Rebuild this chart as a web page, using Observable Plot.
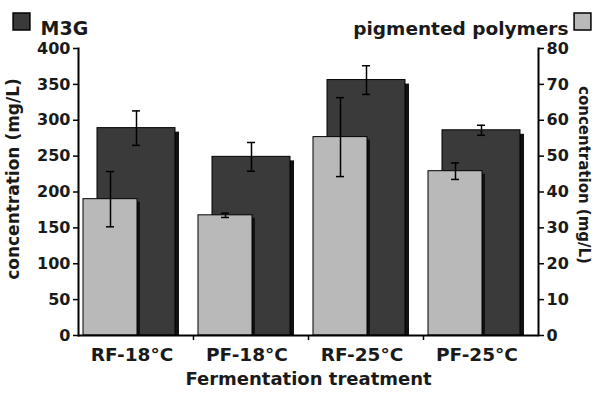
<!DOCTYPE html>
<html>
<head>
<meta charset="utf-8">
<script src="https://cdn.jsdelivr.net/npm/d3@7"></script>
<script src="https://cdn.jsdelivr.net/npm/@observablehq/plot@0.6"></script>
<style>
  html, body { margin: 0; padding: 0; background: #fff; }
  #chart svg { display: block; }
</style>
</head>
<body>
<div id="chart"></div>
<script>
// Fermentation treatments on the x axis
const treatments = ["RF-18°C", "PF-18°C", "RF-25°C", "PF-25°C"];

// Malvidin-3-glucoside (left axis, mg/L)
const m3gMean = [289, 249, 356, 286];
const m3gErr  = [24, 20, 20, 7];

// Pigmented polymers (right axis, mg/L)
const ppMean = [38, 33.5, 55.3, 45.8];
const ppErr  = [7.7, 0.6, 11, 2.3];

// Tick values
const leftTicks  = [0, 50, 100, 150, 200, 250, 300, 350, 400];
const rightTicks = [0, 10, 20, 30, 40, 50, 60, 70, 80];

// The right axis shares the left y scale: 80 mg/L on the right lines up with 400 on the left
const ratio = 400 / 80;

const rows = treatments.map((t, i) => ({
  t,
  m3g: m3gMean[i], m3gLo: m3gMean[i] - m3gErr[i], m3gHi: m3gMean[i] + m3gErr[i],
  pp: ppMean[i] * ratio, ppLo: (ppMean[i] - ppErr[i]) * ratio, ppHi: (ppMean[i] + ppErr[i]) * ratio
}));

const dark = "#3a3a3a";
const light = "#b9b9b9";
const ink = "#1a1a1a";

const chart = Plot.plot({
  width: 595,
  height: 397,
  marginTop: 48,
  marginBottom: 62,
  marginLeft: 78,
  marginRight: 57,
  style: { fontFamily: "DejaVu Sans", fontWeight: "bold", color: ink, background: "#fff" },
  x: { domain: treatments, padding: 0, axis: null },
  y: { domain: [0, 400], axis: null },
  marks: [
    // M3G bars (back) with drop shadow
    Plot.barY(rows, { x: "t", y: "m3g", insetLeft: 19, insetRight: 18, dx: 4, dy: 4, fill: "#111", clip: true }),
    Plot.barY(rows, { x: "t", y: "m3g", insetLeft: 19, insetRight: 18, fill: dark, stroke: "#000", strokeWidth: 1 }),
    Plot.ruleX(rows, { x: "t", y1: "m3gLo", y2: "m3gHi", dx: 0.5, stroke: "#000", strokeWidth: 1.5 }),
    Plot.tickY(rows, { x: "t", y: "m3gHi", insetLeft: 54, insetRight: 53, stroke: "#000", strokeWidth: 1.5 }),
    Plot.tickY(rows, { x: "t", y: "m3gLo", insetLeft: 54, insetRight: 53, stroke: "#000", strokeWidth: 1.5 }),

    // Pigmented polymer bars (front) with drop shadow
    Plot.barY(rows, { x: "t", y: "pp", insetLeft: 5, insetRight: 56, dx: 3, dy: 3, fill: "#111", clip: true }),
    Plot.barY(rows, { x: "t", y: "pp", insetLeft: 5, insetRight: 56, fill: light, stroke: "#000", strokeWidth: 1 }),
    Plot.ruleX(rows, { x: "t", y1: "ppLo", y2: "ppHi", dx: -25.5, stroke: "#000", strokeWidth: 1.5 }),
    Plot.tickY(rows, { x: "t", y: "ppHi", insetLeft: 28, insetRight: 79, stroke: "#000", strokeWidth: 1.5 }),
    Plot.tickY(rows, { x: "t", y: "ppLo", insetLeft: 28, insetRight: 79, stroke: "#000", strokeWidth: 1.5 }),

    // Axis lines
    Plot.frame({ anchor: "left", stroke: "#000", strokeWidth: 2 }),
    Plot.frame({ anchor: "right", stroke: "#000", strokeWidth: 2 }),
    Plot.ruleY([0], { stroke: "#000", strokeWidth: 2 }),
    // Small ticks between treatments
    Plot.ruleX(treatments.slice(1), { x: d => d, y1: 0, y2: -7, dx: -57.5, stroke: "#000", strokeWidth: 1.5 }),

    // Left axis (M3G)
    Plot.axisY({ anchor: "left", ticks: leftTicks, tickSize: 5, tickPadding: 3, fontSize: 16, label: null, stroke: "#000", strokeWidth: 1.5 }),
    // Right axis (pigmented polymers)
    Plot.axisY({ anchor: "right", ticks: rightTicks.map(v => v * ratio), tickFormat: d => d / ratio, tickSize: 5, tickPadding: 3, fontSize: 16, label: null, stroke: "#000", strokeWidth: 1.5 }),
    // Treatment labels
    Plot.axisX({ tickSize: 0, tickPadding: 12, fontSize: 18.5, dx: -4, label: null }),

    // Axis titles
    Plot.text(["Fermentation treatment"], { frameAnchor: "bottom", dy: 44, fontSize: 18, lineAnchor: "middle" }),
    Plot.text(["concentration (mg/L)"], { frameAnchor: "left", textAnchor: "middle", dx: -65, dy: -13, rotate: -90, fontSize: 17 }),
    Plot.text(["concentration (mg/L)"], { frameAnchor: "right", textAnchor: "middle", dx: 45, dy: -17, rotate: 90, fontSize: 15 }),

    // Legend
    Plot.dot([0], { frameAnchor: "top-left", dx: -57, dy: -27, symbol: "square", r: 9.5, fill: dark, stroke: "#000" }),
    Plot.text(["M3G"], { frameAnchor: "top-left", dx: -38, dy: -27, textAnchor: "start", fontSize: 19 }),
    Plot.dot([0], { frameAnchor: "top-right", dx: 44, dy: -27, symbol: "square", r: 9.5, fill: light, stroke: "#000" }),
    Plot.text(["pigmented polymers"], { frameAnchor: "top-right", dx: 30, dy: -27, textAnchor: "end", fontSize: 18.5 })
  ]
});

document.getElementById("chart").append(chart);
</script>
</body>
</html>
